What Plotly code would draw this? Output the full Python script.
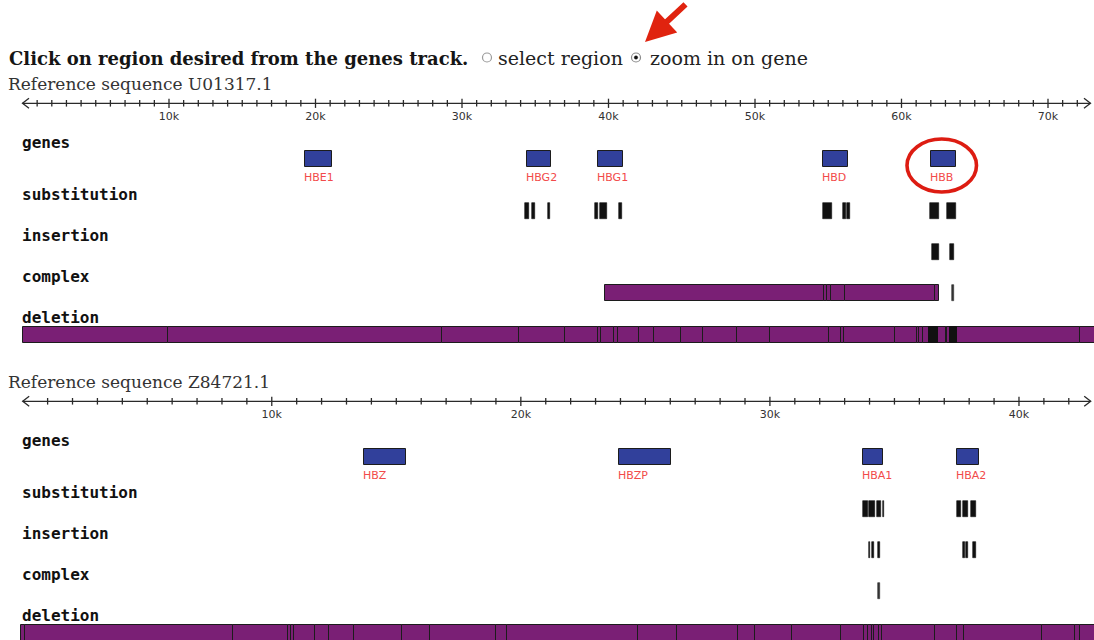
import plotly.graph_objects as go

W, H = 1094, 640

# ---------------- data (base pairs) ----------------
top_tick_vals = [10000, 20000, 30000, 40000, 50000, 60000, 70000]
top_tick_text = ["10k", "20k", "30k", "40k", "50k", "60k", "70k"]
bot_tick_vals = [10000, 20000, 30000, 40000]
bot_tick_text = ["10k", "20k", "30k", "40k"]

top_ruler_len = 72900
bot_ruler_len = 42880

track_names = ["genes", "substitution", "insertion", "complex", "deletion"]

top_gene_names = ["HBE1", "HBG2", "HBG1", "HBD", "HBB"]
top_gene_start = [19260, 34440, 39300, 54620, 62010]
top_gene_end = [21100, 36100, 40990, 56380, 63700]

top_sub_start = [34270, 34750, 35860, 39110, 39420, 40750, 54620, 56010, 56280, 61930, 63110]
top_sub_end = [34560, 34980, 36010, 39280, 39900, 40920, 55260, 56210, 56490, 62530, 63720]

top_ins_start = [62080, 63310]
top_ins_end = [62560, 63580]

top_cpx_bounds = [39790, 54740, 54900, 55220, 56120, 62290, 62530]
top_cpx_mark_start = [63420]
top_cpx_mark_end = [63580]

top_del_bounds = [0, 9910, 28640, 33890, 37010, 39280, 39470, 40380, 40650, 42080,
                  43090, 44970, 46470, 48790, 51040, 55030, 55870, 56080, 59560,
                  61040, 61220, 61490, 61900, 62510, 63010, 63130, 63310, 63770,
                  72180, 73600]
top_del_dense_start = [61900, 63310]
top_del_dense_end = [62510, 63770]

bot_gene_names = ["HBZ", "HBZP", "HBA1", "HBA2"]
bot_gene_start = [13700, 23960, 33720, 37520]
bot_gene_end = [15390, 26020, 34560, 38390]

bot_sub_start = [33740, 33980, 34290, 34530, 37510, 37770, 38070]
bot_sub_end = [33940, 34200, 34460, 34600, 37690, 37970, 38280]

bot_ins_start = [33960, 34100, 34320, 37750, 37870, 38150]
bot_ins_end = [34030, 34180, 34420, 37830, 37950, 38280]

bot_cpx_mark_start = [34340]
bot_cpx_mark_end = [34420]

bot_del_bounds = [-80, 90, 8440, 10670, 10770, 10890, 11720, 12290, 13300, 15220,
                  16350, 19020, 19440, 24700, 26270, 28720, 29390, 30870, 32870,
                  33790, 33940, 34100, 34180, 34380, 34500, 36630, 37510, 37790,
                  40940, 42260, 42450, 43600]

# ---------------- layout constants (pixels) ----------------
TOP_X0, TOP_PX = 22.5, 0.01465      # pixel of 0 bp, pixels per bp
BOT_X0, BOT_PX = 22.7, 0.024907
top_range = [-TOP_X0 / TOP_PX, (W - TOP_X0) / TOP_PX]
bot_range = [-BOT_X0 / BOT_PX, (W - BOT_X0) / BOT_PX]

PURPLE = "#7a1f75"
BLUE = "#31409b"
OUTLINE = "#1c1c1c"
MARK = "#111111"
GENE_RED = "#f24a4a"

fig = go.Figure()


def bars(xa, starts, ends, yc, fill, line=OUTLINE, lw=1.0, h=16):
    fig.add_trace(go.Bar(
        orientation="h", xaxis=xa, yaxis="y",
        base=starts, x=[e - s for s, e in zip(starts, ends)],
        y=[yc] * len(starts), width=h,
        marker=dict(color=fill, line=dict(color=line, width=lw)),
        hoverinfo="skip", showlegend=False))


def panel(xa, dy, px_per_bp, ruler_len, tick_vals, tick_text,
          g_names, g_s, g_e, sub_s, sub_e, ins_s, ins_e,
          cpx_bounds, cpx_ms, cpx_me, del_bounds, dense_s, dense_e):
    xref = "x" if xa == "x" else "x2"
    # ruler
    ay = 103.3 + dy
    ch = 6.5 / px_per_bp
    fig.add_trace(go.Scatter(
        x=[0, ruler_len, None, ch, 0, ch, None, ruler_len - ch, ruler_len, ruler_len - ch],
        y=[ay, ay, None, ay - 5, ay, ay + 5, None, ay - 5, ay, ay + 5],
        mode="lines", line=dict(color="#2a2a2a", width=1.3),
        xaxis=xa, yaxis="y", hoverinfo="skip", showlegend=False))
    tx, ty = [], []
    for t in range(1000, int(ruler_len) - 500, 1000):
        half = 4.6 if t % 10000 == 0 else 3.3
        tx += [t, t, None]
        ty += [ay - half, ay + half, None]
    fig.add_trace(go.Scatter(x=tx, y=ty, mode="lines",
                             line=dict(color="#2a2a2a", width=1.3),
                             xaxis=xa, yaxis="y", hoverinfo="skip", showlegend=False))
    fig.add_trace(go.Scatter(x=tick_vals, y=[116.8 + dy] * len(tick_vals),
                             text=tick_text, mode="text",
                             textfont=dict(family="DejaVu Sans", size=11, color="#333333"),
                             xaxis=xa, yaxis="y", hoverinfo="skip", showlegend=False))
    # rows
    row_top = [151, 203, 244, 285, 326.5]
    rc = [r + 8 + dy for r in row_top]
    for name, rt in zip(track_names, row_top):
        fig.add_annotation(text="<b>" + name + "</b>", xref="paper", x=21 / W, xanchor="left",
                           yref="y", y=rt - 9 + dy, yanchor="middle", showarrow=False,
                           font=dict(family="DejaVu Sans Mono", size=16, color="#111111"),
                           borderpad=0)
    # genes
    bars(xa, g_s, g_e, rc[0], BLUE)
    for n, s in zip(g_names, g_s):
        fig.add_annotation(text=n, xref=xref, x=s, xanchor="left", xshift=-2,
                           yref="y", y=177 + dy, yanchor="middle", showarrow=False,
                           font=dict(family="DejaVu Sans", size=11, color=GENE_RED),
                           borderpad=0)
    # substitution / insertion
    bars(xa, sub_s, sub_e, rc[1], MARK, line=MARK, lw=0.6)
    bars(xa, ins_s, ins_e, rc[2], MARK, line=MARK, lw=0.6)
    # complex
    if cpx_bounds:
        bars(xa, cpx_bounds[:-1], cpx_bounds[1:], rc[3], PURPLE)
    bars(xa, cpx_ms, cpx_me, rc[3], "#333333", line="#333333", lw=0.6)
    # deletion
    bars(xa, del_bounds[:-1], del_bounds[1:], rc[4], PURPLE)
    if dense_s:
        bars(xa, dense_s, dense_e, rc[4], MARK, line=MARK)


panel("x", 0, TOP_PX, top_ruler_len, top_tick_vals, top_tick_text,
      top_gene_names, top_gene_start, top_gene_end,
      top_sub_start, top_sub_end, top_ins_start, top_ins_end,
      top_cpx_bounds, top_cpx_mark_start, top_cpx_mark_end,
      top_del_bounds, top_del_dense_start, top_del_dense_end)

panel("x2", 298, BOT_PX, bot_ruler_len, bot_tick_vals, bot_tick_text,
      bot_gene_names, bot_gene_start, bot_gene_end,
      bot_sub_start, bot_sub_end, bot_ins_start, bot_ins_end,
      [], bot_cpx_mark_start, bot_cpx_mark_end,
      bot_del_bounds, [], [])

# ---------------- header texts / decorations ----------------
serif = "DejaVu Serif"
fig.add_annotation(text="<b>Click on region desired from the genes track.</b>",
                   xref="paper", x=8 / W, xanchor="left", yref="y", y=58,
                   yanchor="middle", showarrow=False, borderpad=0,
                   font=dict(family=serif, size=18, color="#151515"))
fig.add_annotation(text="select region", xref="paper", x=497 / W, xanchor="left",
                   yref="y", y=58, yanchor="middle", showarrow=False, borderpad=0,
                   font=dict(family=serif, size=19, color="#222222"))
fig.add_annotation(text="zoom in on gene", xref="paper", x=649 / W, xanchor="left",
                   yref="y", y=58, yanchor="middle", showarrow=False, borderpad=0,
                   font=dict(family=serif, size=19, color="#222222"))
for t, yy in [("Reference sequence U01317.1", 84), ("Reference sequence Z84721.1", 382)]:
    fig.add_annotation(text=t, xref="paper", x=7 / W, xanchor="left",
                       yref="y", y=yy, yanchor="middle", showarrow=False, borderpad=0,
                       font=dict(family=serif, size=17, color="#333333"))

shapes = []
# radio buttons
shapes.append(dict(type="circle", xref="paper", yref="y", x0=482.5 / W, x1=491.5 / W,
                   y0=53, y1=62, line=dict(color="#9a9a9a", width=1.2), fillcolor="white"))
shapes.append(dict(type="circle", xref="paper", yref="y", x0=631.5 / W, x1=640.5 / W,
                   y0=53, y1=62, line=dict(color="#8a8a8a", width=1.2), fillcolor="white"))
shapes.append(dict(type="circle", xref="paper", yref="y", x0=634.3 / W, x1=637.7 / W,
                   y0=55.8, y1=59.2, line=dict(color="#111111", width=0.5), fillcolor="#111111"))
# red ellipse around HBB
shapes.append(dict(type="circle", xref="paper", yref="y", x0=907 / W, x1=976.5 / W,
                   y0=139, y1=192, line=dict(color="#dd1c12", width=3.6)))
fig.update_layout(shapes=shapes)

# red arrow
fig.add_annotation(text="", xref="paper", x=645 / W, yref="y", y=42,
                   showarrow=True, ax=42, ay=-39, arrowhead=2, arrowsize=1.0,
                   arrowwidth=6, arrowcolor="#e0230f", standoff=0)

fig.update_layout(
    width=W, height=H, margin=dict(l=0, r=0, t=0, b=0),
    paper_bgcolor="white", plot_bgcolor="white", barmode="overlay", bargap=0,
    xaxis=dict(range=top_range, visible=False, domain=[0, 1], fixedrange=True),
    xaxis2=dict(range=bot_range, visible=False, domain=[0, 1], overlaying="x",
                anchor="y", fixedrange=True),
    yaxis=dict(range=[H, 0], visible=False, domain=[0, 1], fixedrange=True),
    showlegend=False,
)

fig.write_html("out.html", config={"displayModeBar": False},
               post_script="document.body.style.margin='0';document.body.style.overflow='hidden';")
